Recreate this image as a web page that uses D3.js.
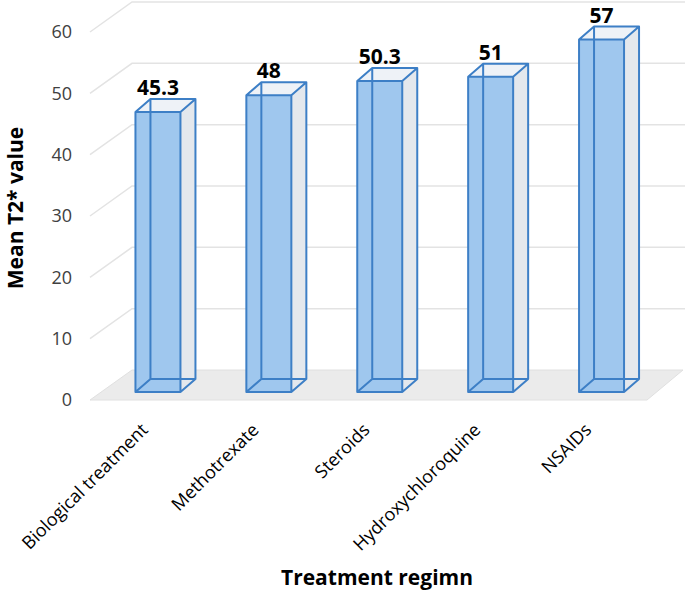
<!DOCTYPE html>
<html>
<head>
<meta charset="utf-8">
<script src="https://cdn.jsdelivr.net/npm/d3@7"></script>
<style>
  body { margin: 0; background: #fff; }
  svg { display: block; font-family: "Open Sans", Lato, sans-serif; }
</style>
</head>
<body>
<svg id="chart" width="685" height="593"></svg>
<script>
const categories = ["Biological treatment", "Methotrexate", "Steroids", "Hydroxychloroquine", "NSAIDs"];
const values = [45.3, 48, 50.3, 51, 57];
const yTicks = [0, 10, 20, 30, 40, 50, 60];

const svg = d3.select("#chart");

// front plane of the floor / axis labels
const y = d3.scaleLinear().domain([0, 60]).range([400, 32]);
// plane in which the bars' front faces sit
const yBar = d3.scaleLinear().domain([0, 60]).range([392, 21]);
const x = d3.scaleBand().domain(categories).range([102.5, 657]);

const floorDx = 42, floorDy = -30; // depth of the whole plot box
const barDx = 15, barDy = -13;     // depth of one bar
const barW = 45;
const floorLeft = 90, floorRight = 647, wallRight = 685;

// gridlines: left side wall goes back diagonally, then along back wall
svg.append("g")
  .selectAll("path")
  .data(yTicks.filter((d) => d > 0))
  .enter()
  .append("path")
  .attr("d", (d) => `M${floorLeft},${y(d)} L${floorLeft + floorDx},${y(d) + floorDy} L${wallRight},${y(d) + floorDy}`)
  .attr("fill", "none")
  .attr("stroke", "#e3e3e3")
  .attr("stroke-width", 1.5);

// floor
svg.append("path")
  .attr("d", `M${floorLeft},${y(0)} L${floorRight},${y(0)} L${floorRight + 36},${y(0) + floorDy} L${floorLeft + floorDx},${y(0) + floorDy} Z`)
  .attr("fill", "#ebebeb")
  .attr("stroke", "#e0e0e0")
  .attr("stroke-width", 1);

// y tick labels
svg.append("g")
  .selectAll("text")
  .data(yTicks)
  .enter()
  .append("text")
  .attr("x", 72)
  .attr("y", (d) => y(d))
  .attr("dy", "0.35em")
  .attr("text-anchor", "end")
  .attr("font-size", 18)
  .attr("fill", "#404040")
  .text((d) => d);

// bars
const bars = svg.append("g")
  .selectAll("g")
  .data(categories.map((c, i) => ({ c, v: values[i] })))
  .enter()
  .append("g");

const geom = (d) => {
  const cx = x(d.c) + x.bandwidth() / 2;
  return { x0: cx - barW / 2, x1: cx + barW / 2, yT: yBar(d.v), yB: yBar(0) };
};

// right side face
bars.append("path")
  .attr("d", (d) => {
    const g = geom(d);
    return `M${g.x1},${g.yB} L${g.x1 + barDx},${g.yB + barDy} L${g.x1 + barDx},${g.yT + barDy} L${g.x1},${g.yT} Z`;
  })
  .attr("fill", "#e4e8ed");

// top face
bars.append("path")
  .attr("d", (d) => {
    const g = geom(d);
    return `M${g.x0},${g.yT} L${g.x1},${g.yT} L${g.x1 + barDx},${g.yT + barDy} L${g.x0 + barDx},${g.yT + barDy} Z`;
  })
  .attr("fill", "#eef2f7");

// front face
bars.append("rect")
  .attr("x", (d) => geom(d).x0)
  .attr("y", (d) => geom(d).yT)
  .attr("width", barW)
  .attr("height", (d) => geom(d).yB - geom(d).yT)
  .attr("fill", "#9fc7ee");

// all box edges (transparent look)
bars.append("path")
  .attr("d", (d) => {
    const g = geom(d);
    const bx0 = g.x0 + barDx, bx1 = g.x1 + barDx, bT = g.yT + barDy, bB = g.yB + barDy;
    return `M${g.x0},${g.yT} H${g.x1} V${g.yB} H${g.x0} Z` +
      `M${bx0},${bT} H${bx1} V${bB} H${bx0} Z` +
      `M${g.x0},${g.yT} L${bx0},${bT} M${g.x1},${g.yT} L${bx1},${bT}` +
      `M${g.x0},${g.yB} L${bx0},${bB} M${g.x1},${g.yB} L${bx1},${bB}`;
  })
  .attr("fill", "none")
  .attr("stroke", "#3d7fc6")
  .attr("stroke-width", 2)
  .attr("stroke-linejoin", "round");

// data labels
bars.append("text")
  .attr("x", (d) => x(d.c) + x.bandwidth() / 2)
  .attr("y", (d) => yBar(d.v) + barDy - 4)
  .attr("text-anchor", "middle")
  .attr("font-size", 21)
  .attr("font-weight", "bold")
  .attr("fill", "#000")
  .text((d) => d.v);

// category labels
svg.append("g")
  .selectAll("text")
  .data(categories)
  .enter()
  .append("text")
  .attr("transform", (d) => `translate(${x(d) + x.bandwidth() / 2 - 9},${y(0) + 31}) rotate(-45)`)
  .attr("text-anchor", "end")
  .attr("font-size", 18)
  .attr("fill", "#000")
  .text((d) => d);

// axis titles
svg.append("text")
  .attr("transform", `translate(23,${(y(0) + y(60)) / 2 - 8}) rotate(-90)`)
  .attr("text-anchor", "middle")
  .attr("font-size", 21)
  .attr("font-weight", "bold")
  .text("Mean T2* value");

svg.append("text")
  .attr("x", 377)
  .attr("y", 585)
  .attr("text-anchor", "middle")
  .attr("font-size", 21)
  .attr("font-weight", "bold")
  .text("Treatment regimn");
</script>
</body>
</html>
